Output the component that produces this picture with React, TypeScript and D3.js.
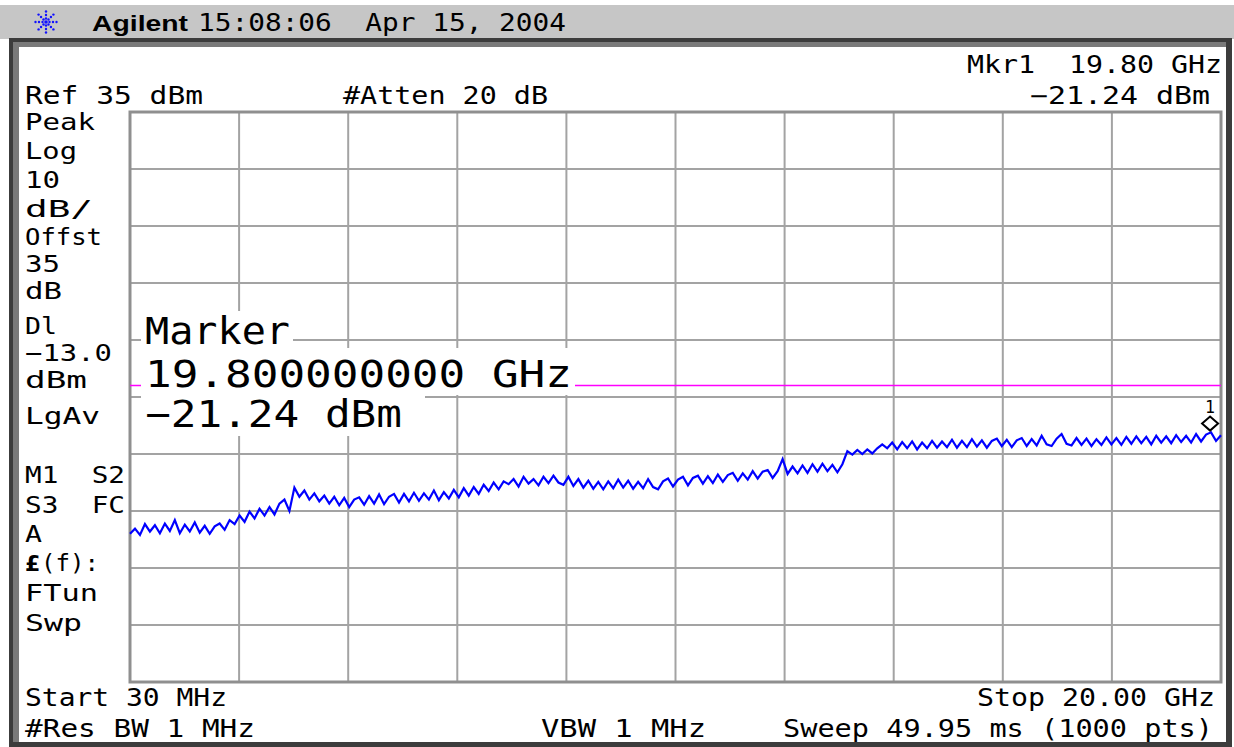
import React from 'react';
import * as d3 from 'd3';

// ---- instrument settings / data ----
const START_GHZ = 0.03;
const STOP_GHZ = 20;
const REF_DBM = 35;
const DB_PER_DIV = 10;
const N_DIVS = 10;
const DISPLAY_LINE_DBM = -13.0;
const MARKER_GHZ = 19.8;
const MARKER_DBM = -21.24;

// trace amplitude (dBm), evenly spaced across the sweep
const traceDbm = [
  -39.0, -38.1, -39.2, -37.3, -38.6, -37.5, -38.9, -37.2, -38.5, -36.6,
  -38.9, -37.4, -38.6, -37.0, -38.8, -37.6, -39.0, -37.7, -37.2,
  -38.3, -36.6, -37.3, -35.8, -36.9, -35.1, -36.3, -34.6, -35.8, -34.3,
  -35.6, -33.7, -33.0, -35.0,
  -30.9, -32.5, -31.4, -33.0, -31.9, -33.3, -32.3, -33.7, -32.5, -34.0,
  -32.7, -34.3, -33.0, -32.6, -33.9, -32.4, -33.7, -32.1, -33.8, -32.5,
  -32.0, -33.5, -32.0, -33.3, -31.8, -33.2, -31.9, -33.0, -31.4, -33.1,
  -31.7, -32.8, -31.3,
  -32.6, -31.0, -32.3, -30.8, -32.0, -30.4, -31.5, -30.0, -31.2, -29.8,
  -30.3, -29.4, -30.7, -29.0, -30.2, -29.4, -30.5, -29.0, -30.1, -28.8,
  -30.0, -30.4, -29.0,
  -30.6, -29.4, -30.9, -29.7, -31.1, -29.9, -31.2, -29.8, -31.0, -29.5,
  -30.9, -29.7, -31.1, -29.9, -31.0, -29.4, -30.8, -31.2, -29.8,
  -29.3, -30.7, -29.5, -29.0, -30.5, -29.2, -28.8, -30.2, -28.9, -30.1,
  -28.6, -29.9, -28.7,
  -28.3, -29.7, -28.4, -29.5, -28.0, -29.3, -28.1, -27.8, -29.2, -28.0,
  -25.9, -28.5, -27.2, -28.4, -27.0, -28.3, -26.8, -28.1, -26.7, -28.0,
  -26.9, -28.2, -26.8,
  -24.5, -25.1, -24.3, -25.0, -24.2, -24.9, -24.0,
  -23.3, -24.0, -23.0, -24.2, -22.9, -24.0, -22.8, -24.2, -23.0, -24.0,
  -22.7, -23.9, -22.8,
  -23.8, -22.5, -23.9, -22.7, -23.8, -22.4, -23.7, -22.6, -23.9, -22.7,
  -22.3, -23.6, -22.5, -23.8, -22.6, -22.2, -23.6, -22.4, -23.5,
  -21.8, -23.3, -23.6, -22.3, -21.5, -23.2, -23.5, -22.2, -23.4, -22.3,
  -23.6, -22.4, -23.4, -22.1, -23.3, -22.2, -23.4,
  -22.0, -23.2, -21.9, -23.1, -22.0, -23.3, -21.8, -23.0, -21.9, -23.1,
  -21.7, -22.9, -21.8, -23.0, -21.5, -22.8, -21.6, -21.2, -22.7, -21.7,
];

const leftLabels = ['Peak', 'Log', '10', 'dB/', 'Offst', '35', 'dB', 'Dl', '\u221213.0', 'dBm', 'LgAv', 'M1  S2', 'S3  FC', 'A', '(f):', 'FTun', 'Swp'];
const markerBoxLines = ['Marker', '19.800000000 GHz', '\u221221.24 dBm'];

// ---- layout ----
const W = 1234;
const H = 747;
const P = { left: 130, right: 1221, top: 112, bottom: 682 };
const MONO = "'DejaVu Sans Mono', monospace";
const leftBaselines = [130, 159, 188, 217, 245, 272, 299, 334, 361, 388, 424, 483, 513, 542, 571, 601, 631];
const leftWidths = [70, 52, 35, 68, 77, 35, 37, 32, 87, 62, 75, 100, 100, 17, 58, 73, 57];

function T({ x, y, w, size = 24, anchor = 'start', children, weight = 'normal', family = MONO, fill = '#000' }: any) {
  return (
    <text
      x={x}
      y={y}
      fontFamily={family}
      fontSize={size}
      fontWeight={weight}
      fill={fill}
      textAnchor={anchor}
      textLength={w}
      lengthAdjust="spacingAndGlyphs"
      style={{ whiteSpace: 'pre' }}
    >
      {children}
    </text>
  );
}

export default function App() {
  const x = d3.scaleLinear().domain([START_GHZ, STOP_GHZ]).range([P.left, P.right]);
  const y = d3
    .scaleLinear()
    .domain([REF_DBM - DB_PER_DIV * N_DIVS, REF_DBM])
    .range([P.bottom, P.top]);

  const freqs = traceDbm.map((_, i) => START_GHZ + (i * (STOP_GHZ - START_GHZ)) / (traceDbm.length - 1));
  const line = d3
    .line<number>()
    .x((_, i) => x(freqs[i]))
    .y((d) => y(d))
    .curve(d3.curveLinear);

  const xGrid = d3.range(N_DIVS + 1).map((i) => START_GHZ + (i * (STOP_GHZ - START_GHZ)) / N_DIVS);
  const yGrid = d3.range(N_DIVS + 1).map((i) => REF_DBM - i * DB_PER_DIV);

  const mx = x(MARKER_GHZ);
  const my = y(MARKER_DBM) - 9;

  // starburst logo
  const star: { cx: number; cy: number }[] = [];
  d3.range(8).forEach((k) => {
    const a = (k * Math.PI) / 4;
    [3.5, 7, 10.5].forEach((r) => star.push({ cx: 46 + r * Math.cos(a), cy: 22 + r * Math.sin(a) }));
  });

  return (
    <svg
      width={W}
      height={H}
      viewBox={`0 0 ${W} ${H}`}
      style={{ position: 'absolute', left: 0, top: 0, display: 'block', background: '#fff' }}
    >
      {/* header bar */}
      <rect x={0} y={5} width={W} height={34} fill="#c6c6c6" />
      {star.map((s, i) => (
        <circle key={i} cx={s.cx} cy={s.cy} r={1.2} fill="#1010ff" />
      ))}
      <circle cx={46} cy={22} r={1.8} fill="#1010ff" />
      <T x={92} y={31} w={96} size={22} weight="bold" family="'Liberation Sans', Arial, sans-serif">Agilent</T>
      <T x={198} y={31} w={368} size={24}>{'15:08:06  Apr 15, 2004'}</T>

      {/* screen frame */}
      <rect x={9} y={38} width={1223} height={709} fill="#3c3c3c" />
      <rect x={13} y={42} width={1213} height={700} fill="#7a7a7a" />
      <rect x={19} y={47} width={1207} height={695} fill="#ffffff" />

      {/* grid */}
      {xGrid.map((f, i) => (
        <line key={'gx' + i} x1={x(f)} x2={x(f)} y1={P.top} y2={P.bottom} stroke="#a3a3a3" strokeWidth={2} />
      ))}
      {yGrid.map((v, i) => (
        <line key={'gy' + i} x1={P.left} x2={P.right} y1={y(v)} y2={y(v)} stroke="#a3a3a3" strokeWidth={2} />
      ))}
      <rect x={P.left} y={P.top} width={P.right - P.left} height={P.bottom - P.top} fill="none" stroke="#8f8f8f" strokeWidth={3} />

      {/* display line */}
      <line x1={P.left} x2={P.right} y1={y(DISPLAY_LINE_DBM)} y2={y(DISPLAY_LINE_DBM)} stroke="#ff00ff" strokeWidth={1.5} />

      {/* trace */}
      <path d={line(traceDbm) || ''} fill="none" stroke="#0000ff" strokeWidth={2.2} strokeLinejoin="miter" />

      {/* marker */}
      <path d={`M${mx - 8},${my} L${mx},${my - 7} L${mx + 8},${my} L${mx},${my + 7} Z`} fill="#fff" stroke="#000" strokeWidth={2} />
      <T x={mx} y={my - 11} w={10} size={18} anchor="middle">1</T>

      {/* marker readout box */}
      <rect x={141} y={311} width={152} height={38} fill="#fff" />
      <rect x={141} y={348} width={434} height={47} fill="#fff" />
      <rect x={141} y={395} width={284} height={41} fill="#fff" />
      <T x={145} y={344} w={145} size={37}>{markerBoxLines[0]}</T>
      <T x={145} y={387} w={427} size={37}>{markerBoxLines[1]}</T>
      <T x={145} y={427} w={257} size={37}>{markerBoxLines[2]}</T>

      {/* top annotations */}
      <T x={967} y={73} w={255} size={24}>{'Mkr1  19.80 GHz'}</T>
      <T x={25} y={104} w={178} size={24}>{'Ref 35 dBm'}</T>
      <T x={343} y={104} w={205} size={24}>{'#Atten 20 dB'}</T>
      <T x={1030} y={104} w={180} size={24}>{'\u221221.24 dBm'}</T>

      {/* left column */}
      {leftLabels.map((s, i) =>
        s === '(f):' ? (
          <g key={'l' + i}>
            <text x={25} y={leftBaselines[i]} fontFamily="'DejaVu Sans', sans-serif" fontWeight="bold" fontSize={22} fill="#000">
              £
            </text>
            <T x={41} y={leftBaselines[i]} w={leftWidths[i]} size={23}>{s}</T>
          </g>
        ) : (
          <T key={'l' + i} x={25} y={leftBaselines[i]} w={leftWidths[i]} size={23}>
            {s}
          </T>
        )
      )}

      {/* bottom annotations */}
      <T x={25} y={706} w={202} size={24}>{'Start 30 MHz'}</T>
      <T x={977} y={706} w={238} size={24}>{'Stop 20.00 GHz'}</T>
      <T x={25} y={737} w={230} size={24}>{'#Res BW 1 MHz'}</T>
      <T x={541} y={737} w={165} size={24}>{'VBW 1 MHz'}</T>
      <T x={783} y={737} w={430} size={24}>{'Sweep 49.95 ms (1000 pts)'}</T>
    </svg>
  );
}
